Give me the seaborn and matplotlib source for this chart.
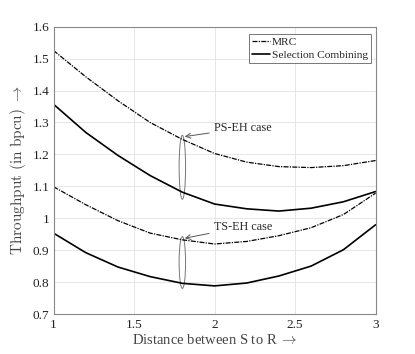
import numpy as np
import pandas as pd
import matplotlib
matplotlib.use("Agg")
import matplotlib.pyplot as plt
import seaborn as sns
from matplotlib.patches import Ellipse
from matplotlib.lines import Line2D

distance = [1.0, 1.2, 1.4, 1.6, 1.8, 2.0, 2.2, 2.4, 2.6, 2.8, 3.0]
ps_mrc = [1.525, 1.443, 1.368, 1.300, 1.247, 1.203, 1.176, 1.162, 1.159, 1.165, 1.181]
ps_sc = [1.357, 1.269, 1.197, 1.134, 1.082, 1.045, 1.030, 1.023, 1.032, 1.052, 1.084]
ts_mrc = [1.099, 1.043, 0.993, 0.954, 0.933, 0.920, 0.928, 0.946, 0.971, 1.012, 1.079]
ts_sc = [0.954, 0.893, 0.848, 0.818, 0.797, 0.789, 0.798, 0.820, 0.851, 0.902, 0.980]
x_ticks = [1, 1.5, 2, 2.5, 3]
x_ticklabels = ['1', '1.5', '2', '2.5', '3']
y_ticks = [0.7, 0.8, 0.9, 1.0, 1.1, 1.2, 1.3, 1.4, 1.5, 1.6]
y_ticklabels = ['0.7', '0.8', '0.9', '1', '1.1', '1.2', '1.3', '1.4', '1.5', '1.6']

sns.set_style("white")
plt.rcParams['font.family'] = ['Liberation Serif', 'DejaVu Serif']
plt.rcParams['mathtext.fontset'] = 'cm'

fig = plt.figure(figsize=(4.15, 3.54), dpi=100)
ax = fig.add_axes([0.129, 0.112, 0.776, 0.813])

n = len(distance)
df = pd.DataFrame({
    'x': distance * 4,
    'y': ps_mrc + ps_sc + ts_mrc + ts_sc,
    'series': (['PS MRC'] * n + ['PS SC'] * n + ['TS MRC'] * n + ['TS SC'] * n),
})

dashdot = (0, (4, 1, 1, 1))
styles = {
    'PS MRC': dict(ls=dashdot, lw=0.9),
    'PS SC': dict(ls='-', lw=1.2),
    'TS MRC': dict(ls=dashdot, lw=0.9),
    'TS SC': dict(ls='-', lw=1.2),
}
for name, st in styles.items():
    sub = df[df['series'] == name]
    sns.lineplot(data=sub, x='x', y='y', ax=ax, color='black',
                 linestyle=st['ls'], linewidth=st['lw'], legend=False)

ax.set_xlim(1, 3)
ax.set_ylim(0.7, 1.6)
ax.set_xticks(x_ticks)
ax.set_xticklabels(x_ticklabels)
ax.set_yticks(y_ticks)
ax.set_yticklabels(y_ticklabels)
ax.grid(True, color='#e6e6e6', linewidth=0.7)
for s in ax.spines.values():
    s.set_color('#888888')
    s.set_linewidth(0.8)
ax.tick_params(direction='in', length=3, color='#888888', labelsize=9.5, pad=3,
               labelcolor='#222222')
ax.set_xlabel('Distance between S to R $\\rightarrow$', fontsize=10.5,
              color='#444444', labelpad=2)
ax.set_ylabel('$\\mathrm{Throughput\\ (in\\ bpcu)}\\ \\rightarrow$', fontsize=11,
              color='#444444', labelpad=3)

# annotations
ax.add_patch(Ellipse((1.8, 1.16), 0.04, 0.2, fill=False, ec='#777777', lw=0.7))
ax.add_patch(Ellipse((1.8, 0.862), 0.04, 0.162, fill=False, ec='#777777', lw=0.7))
ax.annotate('PS-EH case', xy=(1.815, 1.256), xytext=(1.995, 1.282),
            fontsize=8.7, va='center',
            arrowprops=dict(arrowstyle='->', color='#555555', lw=0.7, shrinkA=1, shrinkB=0))
ax.annotate('TS-EH case', xy=(1.815, 0.938), xytext=(1.995, 0.974),
            fontsize=8.7, va='center',
            arrowprops=dict(arrowstyle='->', color='#555555', lw=0.7, shrinkA=1, shrinkB=0))

handles = [Line2D([], [], color='black', ls=dashdot, lw=0.9),
           Line2D([], [], color='black', ls='-', lw=1.2)]
leg = ax.legend(handles, ['MRC', 'Selection Combining'], loc='upper right',
                bbox_to_anchor=(0.996, 0.985), fontsize=8.2, frameon=True,
                fancybox=False, handlelength=1.6, handletextpad=0.15,
                borderpad=0.25, labelspacing=0.25, borderaxespad=0.3)
leg.get_frame().set_edgecolor('#555555')
leg.get_frame().set_linewidth(0.7)

fig.savefig('out.png', dpi=100)
